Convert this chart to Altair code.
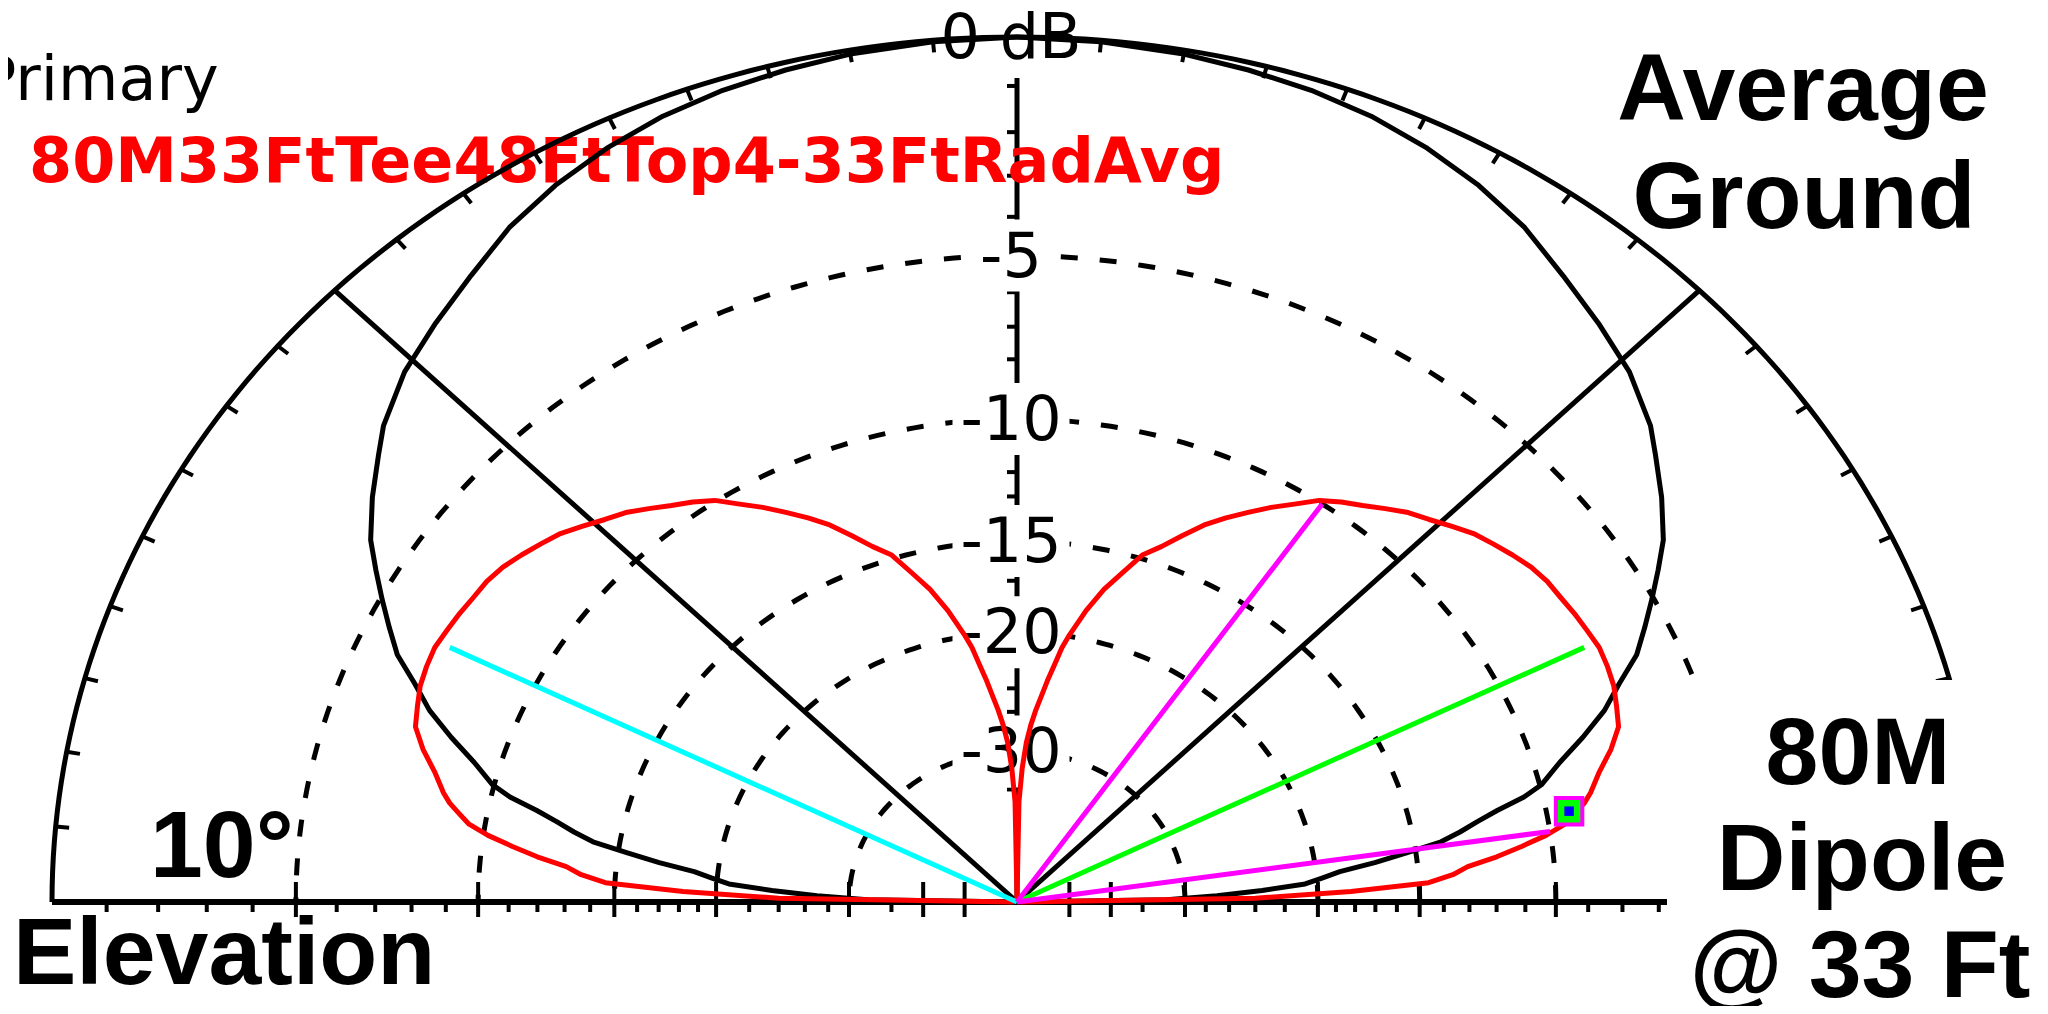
import altair as alt
import numpy as np
import pandas as pd

# ---------------- values ----------------
# Primary pattern (red) "80M33FtTee48FtTop4-33FtRadAvg": elevation (deg) and gain (dB, ARRL log scale)
MAIN_ELEV = [0, 1, 2, 3, 4, 5, 6, 7, 8, 9, 10, 11, 12, 14, 16, 18, 20, 22, 24, 26, 28, 30, 32, 34, 36,
             38, 40, 42, 44, 46, 48, 50, 52, 54, 56, 58, 60, 62, 64, 66, 68, 70, 72, 74, 76, 78,
             80, 81, 82, 83, 84, 85, 86, 87, 88, 89, 90]
MAIN_GAIN = [-99, -24, -18.2, -14.6, -13.6, -13.0, -11.9, -11.0, -10.15, -9.5, -9.15, -8.8, -8.55,
             -8.15, -7.65, -7.25, -7.1, -6.95, -6.88, -6.84, -6.9, -6.95, -7.02, -7.06, -7.17, -7.35,
             -7.55, -7.75, -8.05, -8.35, -8.6, -8.95, -9.3, -9.6, -9.95, -10.5, -11.0, -11.55, -12.1,
             -12.7, -13.45, -14.2, -14.8, -15.9, -16.95, -18.3,
             -19.9, -20.8, -22.1, -23.3, -24.6, -25.8, -27.2, -29.0, -32.0, -37.0, -99]
# Comparison pattern (black): 80M dipole @ 33 ft
DIP_ELEV = [0, 1, 2, 3, 4, 5, 6, 7, 8, 9, 10, 11, 12, 13, 14, 16, 18, 20, 22, 24, 26, 28, 30, 32,
            35, 38, 40, 44, 48, 52, 56, 60, 64, 68, 72, 76, 80, 85, 90]
DIP_GAIN = [-99, -32, -27, -23.5, -20.7, -19.7, -18.7, -16.9, -15.4, -13.9, -13.1, -12.4, -11.6,
            -10.6, -9.95, -9.2, -8.3, -7.45, -6.8, -6.05, -5.55, -5.05, -4.55, -4.05,
            -3.5, -3.0, -2.65, -2.15, -1.8, -1.45, -1.05, -0.76, -0.53, -0.35, -0.23, -0.15, -0.08, -0.03, 0]
assert len(MAIN_ELEV) == len(MAIN_GAIN) and len(DIP_ELEV) == len(DIP_GAIN)

RING_DB = [-5, -10, -15, -20, -30]
RING_LABELS = ["-5", "-10", "-15", "-20", "-30"]
TOP_LABEL = "0 dB"
MINOR_TICK_DB = [-1, -2, -3, -4, -6, -7, -8, -9, -11, -12, -13, -14, -16, -17, -18, -19,
                 -22, -24, -26, -28, -35]
MAJOR_TICK_DB = [-5, -10, -15, -20, -30, -40, -50]
ELEV_TICKS = [a for a in range(5, 180, 5) if a not in (45, 90, 135)]

LINE_NAMES = ["max left", "max right", "-3 dB upper", "-3 dB lower"]
LINE_ELEV = [153.4, 26.6, 55.5, 8.4]
LINE_GAIN = [-7.2, -7.2, -10.0, -10.0]
LINE_COLORS = ["#00FFFF", "#00FF00", "#FF00FF", "#FF00FF"]
CURSOR_ELEV = 10.4
CURSOR_GAIN = -9.3

TITLE_PRIMARY = "Primary"
TITLE_MAIN = "80M33FtTee48FtTop4-33FtRadAvg"

# ---------------- layout (pixels) ----------------
W, H = 1930, 865          # plot area: half ellipse, rx = 965, ry = 865
PAD = {"left": 44, "top": 29, "right": 56, "bottom": 104}
CX_PAGE, CY_PAGE = 1017, 902


def U(px):  # page x -> data u
    return (px - CX_PAGE) / 965.0


def V(py):  # page y -> data v
    return (CY_PAGE - py) / 865.0


def arrl(db):
    return 0.89 ** (-db / 2.0)


XS = alt.Scale(domain=[-1, 1], nice=False, zero=False)
YS = alt.Scale(domain=[0, 1], nice=False, zero=False)
X = lambda f: alt.X(f, type="quantitative", scale=XS, axis=None)
Y = lambda f: alt.Y(f, type="quantitative", scale=YS, axis=None)

POLAR = dict(r="pow(0.89, -datum.gain / 2)")
UV = dict(u="datum.r * cos(datum.az * PI / 180)", v="datum.r * sin(datum.az * PI / 180)")


def pattern_df(elev, gain):
    rows = [{"az": e, "gain": g} for e, g in zip(elev, gain)]
    rows += [{"az": 180 - e, "gain": g} for e, g in zip(elev, gain)]
    return pd.DataFrame(rows).drop_duplicates("az").sort_values("az").reset_index(drop=True)


def pattern_layer(df, color, width=5):
    return (alt.Chart(df).transform_calculate(**POLAR).transform_calculate(**UV)
            .mark_line(color=color, strokeWidth=width, strokeJoin="round")
            .encode(x=X("u"), y=Y("v"), order="az:Q"))


angles = np.arange(0, 180.5, 1.0)

# dashed rings
ring_df = pd.DataFrame([{"ring": d, "az": a, "gain": d} for d in RING_DB for a in angles])
rings = (alt.Chart(ring_df).transform_calculate(**POLAR).transform_calculate(**UV)
         .mark_line(color="black", strokeWidth=5, strokeDash=[17, 22])
         .encode(x=X("u"), y=Y("v"), detail="ring:N", order="az:Q"))

# outer ring (0 dB)
outer_df = pd.DataFrame({"az": angles, "gain": 0.0})
outer = (alt.Chart(outer_df).transform_calculate(**POLAR).transform_calculate(**UV)
         .mark_line(color="black", strokeWidth=5).encode(x=X("u"), y=Y("v"), order="az:Q"))

# radial lines 45, 90, 135
rad_df = pd.DataFrame([{"az": a, "u": rr * np.cos(np.radians(a)), "v": rr * np.sin(np.radians(a)), "k": i}
                       for a in (45, 90, 135) for i, rr in enumerate([0.0, 1.0])])
radials = alt.Chart(rad_df).mark_line(color="black", strokeWidth=5).encode(
    x=X("u"), y=Y("v"), detail="az:N", order="k:Q")

# baseline
base_df = pd.DataFrame({"u": [-1.0], "u2": [1.0], "v": [0.0]})
baseline = alt.Chart(base_df).mark_rule(color="black", strokeWidth=6).encode(
    x=X("u"), x2="u2", y=Y("v"))

# baseline ticks
tick_rows = []
for d in MINOR_TICK_DB:
    for s in (-1, 1):
        tick_rows.append({"u": s * arrl(d), "v1": 0.0, "v2": -10 / 865})
for d in MAJOR_TICK_DB:
    for s in (-1, 1):
        tick_rows.append({"u": s * arrl(d), "v1": 20 / 865, "v2": -15 / 865})
btick = alt.Chart(pd.DataFrame(tick_rows)).mark_rule(color="black", strokeWidth=4).encode(
    x=X("u"), y=Y("v1"), y2="v2")

# vertical-axis ticks (left side)
vt_df = pd.DataFrame([{"u1": -10 / 965, "u2": 0.0, "v": arrl(d)} for d in MINOR_TICK_DB])
vtick = alt.Chart(vt_df).mark_rule(color="black", strokeWidth=4).encode(
    x=X("u1"), x2="u2", y=Y("v"))

# outer-ring ticks every 5 degrees
ot_df = pd.DataFrame([{"u1": 0.986 * np.cos(np.radians(a)), "v1": 0.986 * np.sin(np.radians(a)),
                       "u2": np.cos(np.radians(a)), "v2": np.sin(np.radians(a))} for a in ELEV_TICKS])
otick = alt.Chart(ot_df).mark_rule(color="black", strokeWidth=4).encode(
    x=X("u1"), y=Y("v1"), x2="u2", y2="v2")

# ring labels with white boxes
lab_rows = [{"text": TOP_LABEL, "v": 1.0, "w": 146, "h": 41}]
for d, t in zip(RING_DB, RING_LABELS):
    lab_rows.append({"text": t, "v": arrl(d), "w": 18 + 33 * len(t), "h": 36})
lab_df = pd.DataFrame(lab_rows)
lab_df["u"] = U(1011)
lab_df["bx1"] = lab_df["u"] - lab_df["w"] / 2 / 965
lab_df["bx2"] = lab_df["u"] + lab_df["w"] / 2 / 965
lab_df["by1"] = lab_df["v"] - lab_df["h"] / 865
lab_df["by2"] = lab_df["v"] + lab_df["h"] / 865
lab_box = alt.Chart(lab_df).mark_rect(color="white").encode(
    x=X("bx1"), x2="bx2", y=Y("by1"), y2="by2")
lab_txt = alt.Chart(lab_df).mark_text(font="DejaVu Sans", fontSize=62, color="black",
                                      align="center", baseline="middle", dy=2).encode(
    x=X("u"), y=Y("v"), text="text:N")

# titles top-left
prim = alt.Chart(pd.DataFrame({"t": [TITLE_PRIMARY], "u": [U(-21)], "v": [V(100)]})).mark_text(
    font="DejaVu Sans", fontSize=62, color="black", align="left", baseline="alphabetic").encode(
    x=X("u"), y=Y("v"), text="t:N")
mainttl = alt.Chart(pd.DataFrame({"t": [TITLE_MAIN], "u": [U(29)], "v": [V(182)]})).mark_text(
    font="DejaVu Sans", fontWeight="bold", fontSize=62, color="#FF0000", align="left",
    baseline="alphabetic").encode(x=X("u"), y=Y("v"), text="t:N")

# patterns
dip = pattern_layer(pattern_df(DIP_ELEV, DIP_GAIN), "black")
main = pattern_layer(pattern_df(MAIN_ELEV, MAIN_GAIN), "#FF0000")

# beam lines
ln_rows = []
for n, e, g in zip(LINE_NAMES, LINE_ELEV, LINE_GAIN):
    ln_rows.append({"name": n, "az": e, "gain": g, "pos": 0.0})
    ln_rows.append({"name": n, "az": e, "gain": g, "pos": 1.0})
lines = (alt.Chart(pd.DataFrame(ln_rows))
         .transform_calculate(r="datum.pos * pow(0.89, -datum.gain / 2)").transform_calculate(**UV)
         .mark_line(strokeWidth=5)
         .encode(x=X("u"), y=Y("v"), detail="name:N", order="pos:Q",
                 color=alt.Color("name:N", scale=alt.Scale(domain=LINE_NAMES, range=LINE_COLORS),
                                 legend=None)))

cur_df = pd.DataFrame({"az": [CURSOR_ELEV], "gain": [CURSOR_GAIN]})
cursor = (alt.Chart(cur_df).transform_calculate(**POLAR).transform_calculate(**UV)
          .mark_square(size=700, fill="#00FF00", stroke="#FF00FF", strokeWidth=4, opacity=1)
          .encode(x=X("u"), y=Y("v")))
cursor_dot = (alt.Chart(cur_df).transform_calculate(**POLAR).transform_calculate(**UV)
              .mark_square(size=90, fill="#0000FF", opacity=1).encode(x=X("u"), y=Y("v")))

# white box in the lower-right corner (the original picture's text panel)
mask_df = pd.DataFrame({"u1": [U(1667)], "u2": [U(2100)], "v1": [V(680)], "v2": [V(1100)]})
mask = alt.Chart(mask_df).mark_rect(color="white").encode(x=X("u1"), x2="u2", y=Y("v1"), y2="v2")

# big annotations
big_c = pd.DataFrame({
    "t": ["Average", "Ground", "80M", "Dipole", "@ 33 Ft"],
    "u": [U(1803), U(1804), U(1858), U(1862), U(1860)],
    "v": [V(120), V(228), V(784), V(890), V(997)],
})
big_l = pd.DataFrame({"t": ["10°", "Elevation"], "u": [U(150), U(13)], "v": [V(877), V(984)]})
bigc = alt.Chart(big_c).mark_text(font="Liberation Sans", fontWeight="bold", fontSize=95,
                                  color="black", align="center", baseline="alphabetic").encode(
    x=X("u"), y=Y("v"), text="t:N")
bigl = alt.Chart(big_l).mark_text(font="Liberation Sans", fontWeight="bold", fontSize=95,
                                  color="black", align="left", baseline="alphabetic").encode(
    x=X("u"), y=Y("v"), text="t:N")

chart = alt.layer(
    rings, radials, baseline, btick, vtick, lab_box, lab_txt, prim, mainttl,
    outer, otick, dip, main, lines, cursor, cursor_dot, mask, bigc, bigl,
).properties(
    width=W, height=H,
    autosize=alt.AutoSizeParams(type="none"),
    padding=PAD,
    background="white",
).configure_view(stroke=None)

chart.save("out.html", embed_options={"renderer": "svg", "actions": False})
